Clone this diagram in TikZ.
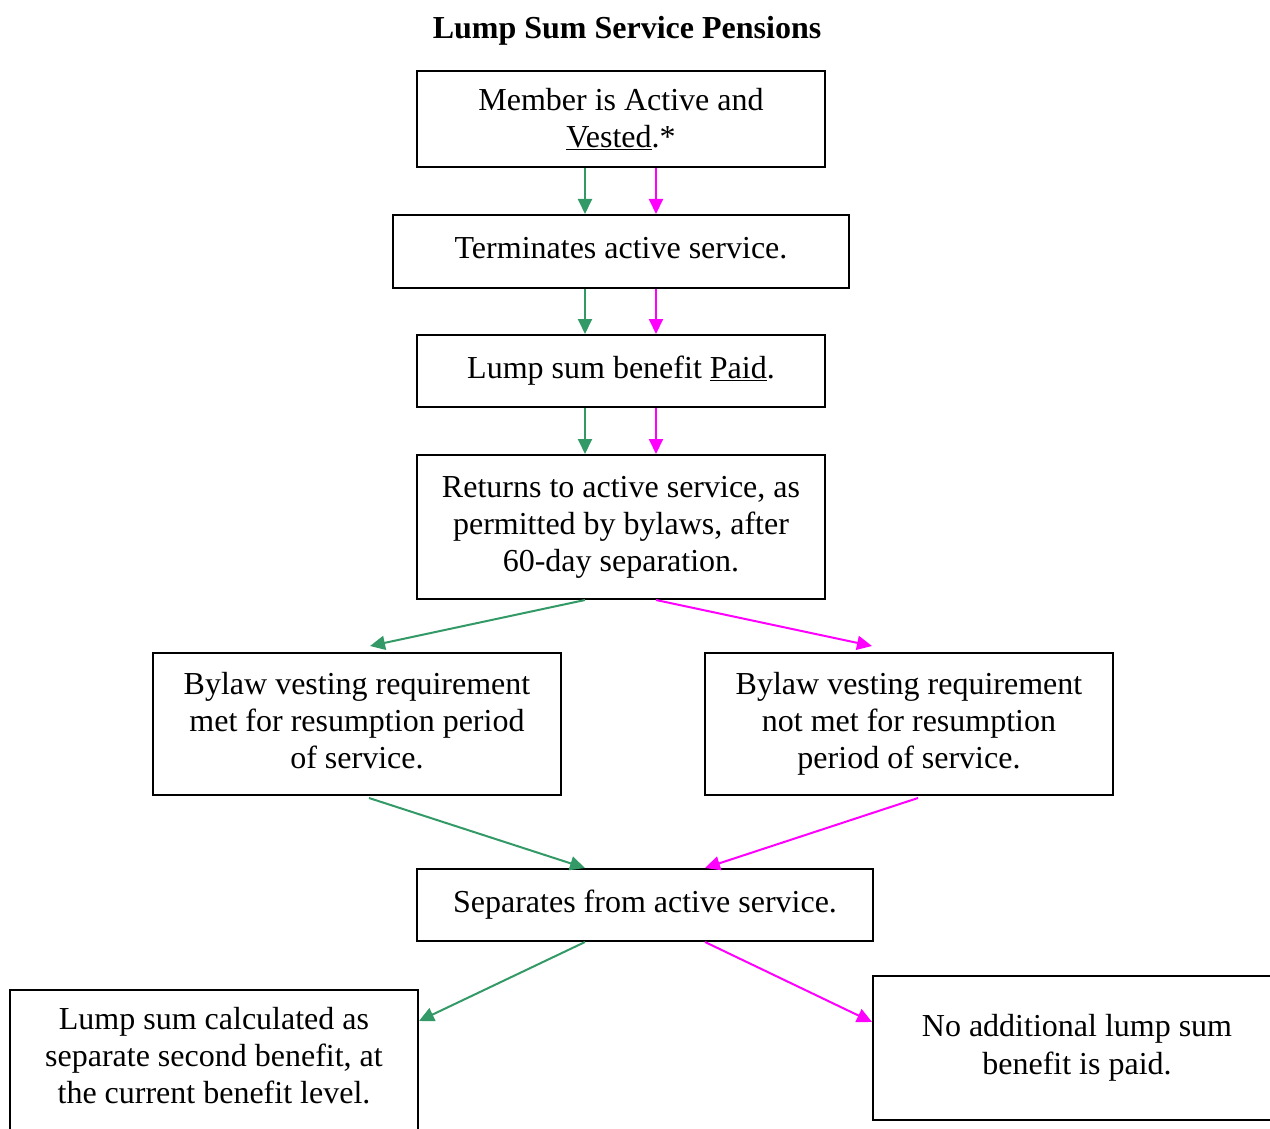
\documentclass[tikz,border=0pt]{standalone}
\usepackage{fontspec}
\setmainfont{Liberation Serif}
\usetikzlibrary{arrows.meta}
\definecolor{seagreen}{RGB}{51,153,102}
\definecolor{brightpink}{RGB}{255,0,255}
\begin{document}
\begin{tikzpicture}[x=1pt,y=1pt,
  txt/.style={font=\fontsize{32}{37}\selectfont},
  box/.style={txt, draw=black, line width=2pt, align=center, inner sep=0pt},
  flow/.style={line width=2pt, -{Triangle[length=15pt,width=14pt]}},
  gflow/.style={flow, draw=seagreen},
  mflow/.style={flow, draw=brightpink}]
\useasboundingbox (0,0) rectangle (1270,-1129);

% title
\node[txt, font=\fontsize{32}{37}\selectfont\bfseries] (title) at (627,-31) {Lump Sum Service Pensions};

% main column
\node[box, minimum width=408pt, minimum height=96pt] (A) at (621,-119)
  {Member is Active and\\\underline{Vested}.*};
\node[box, minimum width=456pt, minimum height=73pt] (B) at (621,-251.5)
  {Terminates active service.\vphantom{p}};
\node[box, minimum width=408pt, minimum height=72pt] (C) at (621,-371)
  {Lump sum benefit \underline{Paid}.};
\node[box, minimum width=408pt, minimum height=144pt] (D) at (621,-527)
  {Returns to active service, as\\permitted by bylaws, after\\60-day separation.};

% branches
\node[box, minimum width=408pt, minimum height=142pt] (E) at (357,-724)
  {Bylaw vesting requirement\\met for resumption period\\of service.\vphantom{p}};
\node[box, minimum width=408pt, minimum height=142pt] (F) at (909,-724)
  {Bylaw vesting requirement\\not met for resumption\\period of service.};

\node[box, minimum width=456pt, minimum height=72pt] (G) at (645,-905)
  {Separates from active service.};

% outcomes
\node[box, anchor=north west] (H) at (9,-989)
  {\begin{minipage}[t][170pt][t]{408pt}\centering\vspace*{17pt}%
   Lump sum calculated as\\separate second benefit, at\\the current benefit level.\end{minipage}};
\node[box, minimum width=408pt, minimum height=144pt, font=\fontsize{32}{38}\selectfont] (I) at (1077,-1048)
  {\raisebox{-3pt}{No additional lump sum}\\\raisebox{-3pt}{benefit is paid.}};

% connectors
\draw[gflow] ([xshift=-36pt]A.south) -- ([xshift=-36pt]B.north);
\draw[mflow] ([xshift=35pt]A.south) -- ([xshift=35pt]B.north);
\draw[gflow] ([xshift=-36pt]B.south) -- ([xshift=-36pt]C.north);
\draw[mflow] ([xshift=35pt]B.south) -- ([xshift=35pt]C.north);
\draw[gflow] ([xshift=-36pt]C.south) -- ([xshift=-36pt]D.north);
\draw[mflow] ([xshift=35pt]C.south) -- ([xshift=35pt]D.north);

\draw[gflow] ([xshift=-36pt]D.south) -- ([xshift=13pt,yshift=6pt]E.north);
\draw[mflow] ([xshift=35pt]D.south) -- ([xshift=-37pt,yshift=6pt]F.north);

\draw[gflow] ([xshift=12pt,yshift=-2pt]E.south) -- ([xshift=-60pt]G.north);
\draw[mflow] ([xshift=9pt,yshift=-2pt]F.south) -- ([xshift=60pt]G.north);

\draw[gflow] ([xshift=-60pt]G.south) -- ([yshift=-32pt]H.north east);
\draw[mflow] ([xshift=60pt]G.south) -- ([yshift=-47pt]I.north west);
\end{tikzpicture}
\end{document}
